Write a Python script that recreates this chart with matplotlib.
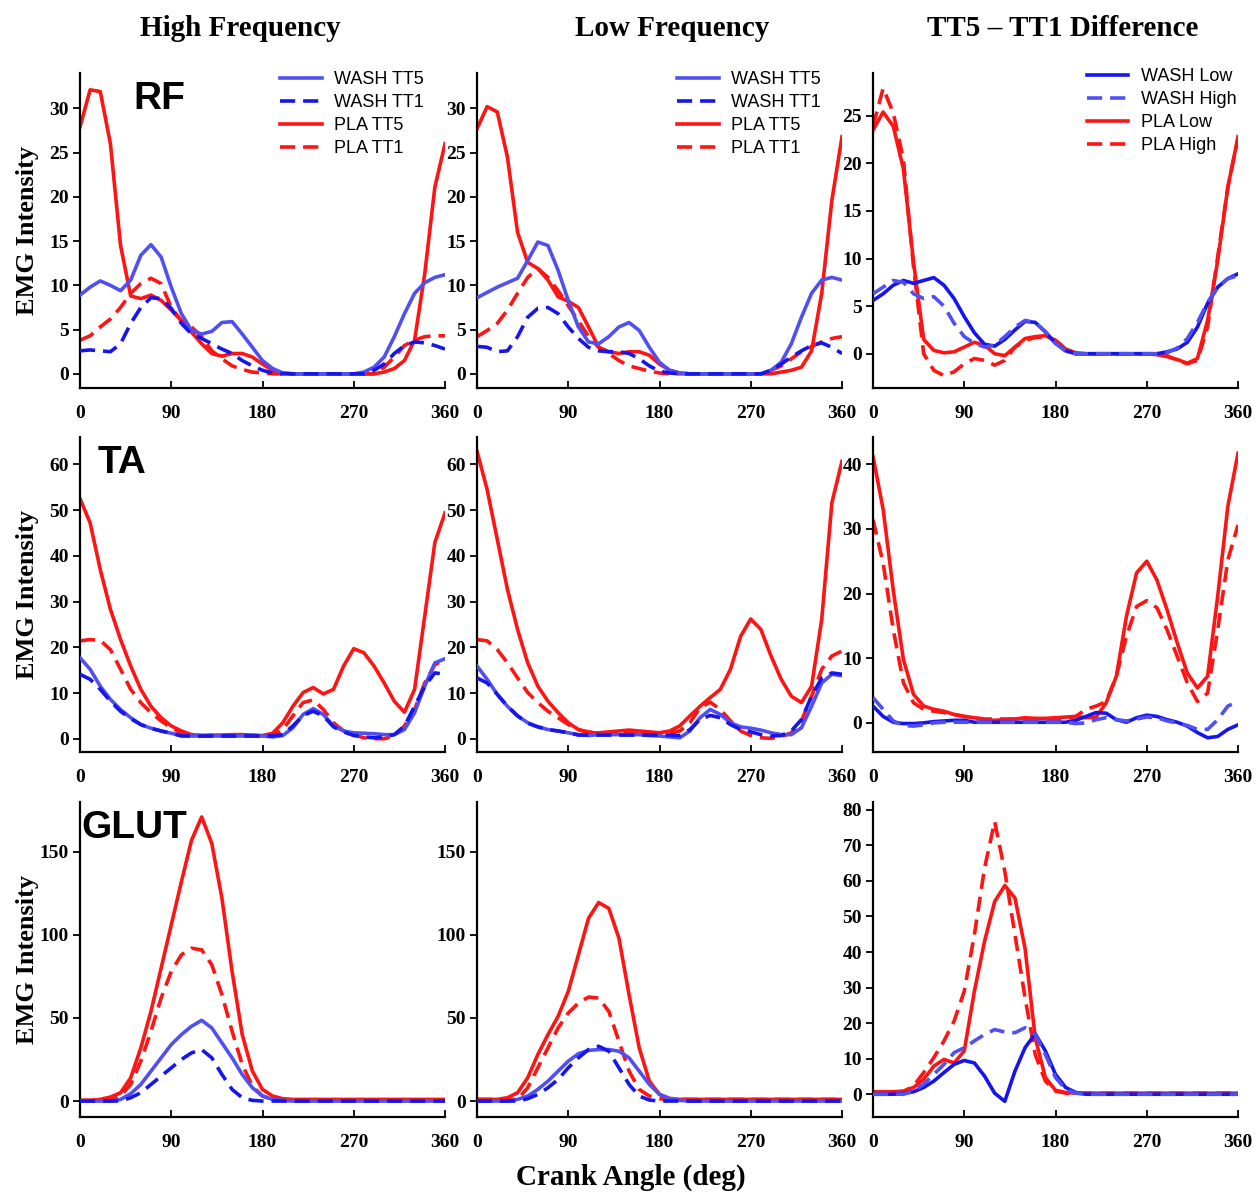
import numpy as np
import matplotlib.pyplot as plt

# crank angle samples (deg)
angle = np.arange(0, 361, 10)

# ---- RF ----
rf_high_wash_tt5 = [8.9, 9.8, 10.5, 10.0, 9.4, 10.6, 13.4, 14.6, 13.2, 9.8, 6.8, 4.9, 4.5, 4.8, 5.8, 5.9, 4.5, 3.0, 1.5, 0.6, 0.1,
                    0, 0, 0, 0, 0, 0, 0, 0.2, 0.75, 1.9, 4.2, 6.8, 9.1, 10.3, 10.9, 11.2]
rf_high_wash_tt1 = [2.6, 2.7, 2.6, 2.5, 3.4, 5.7, 7.5, 8.6, 8.5, 7.4, 5.7, 4.5, 4.0, 3.4, 2.8, 2.3, 1.5, 0.9, 0.4, 0.1, 0,
                    0, 0, 0, 0, 0, 0, 0, 0, 0.4, 1.1, 2.3, 3.2, 3.6, 3.5, 3.2, 2.8]
rf_high_pla_tt5 = [27.9, 32.1, 31.9, 26.0, 14.5, 8.8, 8.5, 8.9, 8.3, 7.2, 6.0, 4.7, 3.4, 2.3, 2.0, 2.3, 2.3, 1.9, 1.1, 0.4, 0.1,
                   0, 0, 0, 0, 0, 0, 0, 0, 0, 0.2, 0.6, 1.5, 3.8, 11.3, 21.1, 26.0]
rf_high_pla_tt1 = [3.8, 4.3, 5.3, 6.2, 7.5, 9.1, 10.2, 10.8, 10.2, 7.5, 6.0, 5.3, 4.2, 2.6, 1.7, 0.9, 0.5, 0.2, 0.1,
                   0, 0, 0, 0, 0, 0, 0, 0, 0, 0, 0, 0.75, 1.9, 3.2, 3.8, 4.2, 4.3, 4.3]

rf_low_wash_tt5 = [8.6, 9.2, 9.8, 10.3, 10.8, 12.8, 14.9, 14.5, 11.7, 8.3, 5.3, 3.6, 3.4, 4.2, 5.3, 5.8, 4.9, 3.0, 1.3, 0.4, 0.1,
                   0, 0, 0, 0, 0, 0, 0, 0, 0.4, 1.3, 3.4, 6.4, 9.1, 10.6, 10.9, 10.6]
rf_low_wash_tt1 = [3.1, 3.0, 2.5, 2.6, 4.2, 6.4, 7.4, 7.5, 6.8, 5.3, 4.0, 3.0, 2.6, 2.5, 2.5, 2.3, 1.7, 0.9, 0.3, 0.1,
                   0, 0, 0, 0, 0, 0, 0, 0, 0, 0.4, 1.1, 1.9, 2.6, 3.2, 3.5, 3.0, 2.3]
rf_low_pla_tt5 = [27.7, 30.2, 29.6, 24.5, 16.0, 12.6, 11.9, 10.6, 8.7, 8.2, 7.5, 5.3, 3.0, 2.5, 2.3, 2.5, 2.5, 2.1, 1.1, 0.4, 0.1,
                  0, 0, 0, 0, 0, 0, 0, 0, 0, 0.2, 0.4, 0.75, 2.6, 9.1, 19.6, 26.8]
rf_low_pla_tt1 = [4.2, 4.9, 5.7, 7.2, 9.1, 10.9, 11.9, 10.9, 9.4, 7.7, 6.0, 4.2, 3.0, 2.3, 1.5, 0.9, 0.6, 0.3, 0.1,
                  0, 0, 0, 0, 0, 0, 0, 0, 0, 0, 0.4, 0.9, 1.7, 2.5, 3.1, 3.6, 4.0, 4.2]

rf_diff_wash_low = [5.6, 6.3, 7.2, 7.7, 7.4, 7.7, 8.0, 7.2, 5.8, 3.9, 2.2, 1.0, 0.8, 1.5, 2.5, 3.4, 3.3, 2.3, 1.1, 0.3,
                    0, 0, 0, 0, 0, 0, 0, 0, 0, 0.2, 0.5, 1.2, 2.8, 5.3, 7.0, 7.9, 8.4]
rf_diff_wash_high = [6.3, 7.0, 7.7, 7.5, 6.3, 5.8, 6.0, 5.0, 3.2, 1.8, 1.1, 0.7, 0.9, 1.8, 2.8, 3.5, 3.3, 2.3, 1.1, 0.3,
                     0, 0, 0, 0, 0, 0, 0, 0, 0, 0.1, 0.6, 1.6, 3.3, 5.4, 7.0, 7.9, 8.2]
rf_diff_pla_low = [23.5, 25.4, 23.9, 19.4, 9.6, 1.5, 0.35, 0.1, 0.2, 0.7, 1.2, 0.9, 0.0, -0.2, 0.7, 1.6, 1.8, 1.9, 1.4, 0.5, 0.1,
                   0, 0, 0, 0, 0, 0, 0, -0.1, -0.3, -0.6, -1.0, -0.5, 3.5, 9.8, 17.5, 22.8]
rf_diff_pla_high = [23.9, 27.9, 25.3, 20.4, 9.1, 0, -1.75, -2.3, -1.9, -1.05, -0.5, -0.7, -1.2, -0.7, 0.7, 1.4, 1.7, 1.8, 1.4, 0.5,
                    0, 0, 0, 0, 0, 0, 0, 0, 0, -0.2, -0.7, -1.05, -0.7, 2.8, 10.2, 17.5, 22.6]

# ---- TA ----
ta_high_wash_tt5 = [17.7, 15.2, 11.5, 8.6, 6.4, 4.6, 3.1, 2.3, 1.7, 1.2, 0.7, 0.6, 0.6, 0.6, 0.6, 0.6, 0.6, 0.6, 0.6, 0.4,
                    0.7, 2.4, 5.3, 6.6, 5.3, 2.8, 1.7, 1.3, 1.2, 1.1, 0.9, 0.9, 2.0, 5.7, 11.5, 16.6, 17.5]
ta_high_wash_tt1 = [14.1, 13.0, 10.8, 8.2, 6.0, 4.4, 3.1, 2.3, 1.7, 1.2, 0.6, 0.6, 0.6, 0.6, 0.6, 0.6, 0.6, 0.6, 0.6, 0.6,
                    0.9, 2.8, 5.1, 6.0, 5.0, 2.6, 1.5, 0.7, 0.4, 0.2, 0.4, 0.9, 2.8, 7.1, 11.5, 14.4, 14.1]
ta_high_pla_tt5 = [52.5, 47.2, 37.0, 28.3, 21.7, 15.9, 10.8, 7.1, 4.6, 2.8, 1.7, 0.9, 0.7, 0.8, 0.8, 0.9, 0.9, 0.8, 0.7, 1.2,
                   3.5, 7.1, 10.1, 11.2, 9.8, 10.8, 15.9, 19.7, 18.8, 15.9, 12.2, 8.2, 5.8, 10.8, 26.8, 42.9, 49.4]
ta_high_pla_tt1 = [21.4, 21.7, 21.5, 19.5, 15.2, 10.8, 7.9, 5.7, 3.9, 2.4, 1.3, 0.8, 0.7, 0.7, 0.7, 0.7, 0.7, 0.7, 0.7, 0.7,
                   2.0, 5.0, 7.9, 8.5, 6.4, 3.5, 1.7, 0.9, 0.2, 0, 0, 0.6, 2.8, 6.4, 12.2, 16.2, 17.3]

ta_low_wash_tt5 = [15.9, 13.0, 9.7, 7.1, 5.0, 3.5, 2.6, 2.0, 1.7, 1.3, 0.9, 0.7, 0.9, 0.9, 0.9, 0.9, 0.9, 0.7, 0.6, 0.4,
                   0.2, 1.7, 4.6, 6.4, 5.3, 3.5, 2.6, 2.3, 1.9, 1.3, 0.9, 0.9, 2.4, 7.1, 12.2, 14.1, 13.8]
ta_low_wash_tt1 = [13.3, 12.2, 9.7, 7.1, 5.0, 3.4, 2.6, 2.0, 1.7, 1.3, 0.8, 0.8, 0.8, 0.8, 0.8, 0.8, 0.8, 0.8, 0.8, 0.8,
                   0.7, 2.0, 4.2, 5.1, 4.6, 3.1, 2.0, 1.5, 0.9, 0.6, 0.7, 1.7, 4.2, 9.3, 13.3, 14.4, 14.1]
ta_low_pla_tt5 = [62.9, 54.5, 43.6, 32.7, 23.9, 16.6, 11.5, 8.2, 5.7, 3.5, 2.0, 1.3, 1.3, 1.5, 1.7, 1.9, 1.7, 1.5, 1.3, 1.7,
                  2.8, 5.0, 7.1, 9.0, 10.8, 15.2, 22.4, 26.2, 23.9, 18.1, 13.0, 9.3, 7.9, 11.5, 26.1, 51.6, 60.7]
ta_low_pla_tt1 = [21.7, 21.4, 19.5, 16.6, 13.3, 10.1, 7.9, 6.0, 4.6, 3.1, 2.0, 1.5, 1.3, 1.2, 1.2, 1.2, 1.2, 1.2, 1.2, 1.2,
                  1.7, 3.5, 6.8, 8.0, 6.4, 3.9, 1.7, 0.7, 0.2, 0.1, 0.4, 1.3, 3.9, 9.3, 15.2, 18.1, 19.2]

ta_diff_wash_low = [2.6, 1.0, 0.1, -0.1, -0.1, 0, 0.2, 0.3, 0.4, 0.4, 0.1, 0.1, 0.1, 0.1, 0.1, 0.1, 0.1, 0.1, 0.1, 0.1,
                    0.4, 1.0, 1.6, 1.5, 0.5, 0.1, 0.8, 1.2, 1.0, 0.5, 0.1, -0.5, -1.5, -2.3, -2.1, -1.0, -0.3]
ta_diff_wash_high = [3.9, 2.1, 0.3, -0.4, -0.5, -0.3, 0, 0.1, 0.1, 0.1, 0.1, 0.1, 0.1, 0.1, 0.1, 0.1, 0.1, 0.1, 0.1, 0.1,
                     -0.1, 0, 0.5, 0.8, 0.5, 0.3, 0.6, 0.9, 0.8, 0.3, 0, -0.4, -1.0, -1.0, 0.5, 2.6, 3.3]
ta_diff_pla_low = [41.2, 33.0, 20.5, 9.8, 4.4, 2.6, 2.1, 1.8, 1.3, 1.0, 0.8, 0.5, 0.4, 0.5, 0.6, 0.8, 0.7, 0.7, 0.8, 0.9,
                   1.0, 0.8, 0.9, 3.1, 7.2, 16.5, 23.2, 25.0, 22.1, 17.5, 12.4, 7.7, 5.4, 7.2, 19.6, 33.5, 41.7]
ta_diff_pla_high = [31.4, 24.7, 14.4, 6.2, 3.1, 2.1, 1.8, 1.6, 1.3, 1.0, 0.8, 0.6, 0.6, 0.6, 0.6, 0.6, 0.6, 0.6, 0.6, 0.6,
                    1.0, 2.1, 2.6, 3.3, 7.2, 13.4, 18.0, 18.9, 17.8, 14.4, 10.3, 6.2, 3.3, 4.6, 14.4, 25.2, 30.6]

# ---- GLUT ----
glut_high_wash_tt5 = [0, 0, 0, 0, 1, 4.4, 10, 18, 26, 34, 40, 45, 48.6, 44, 35, 26, 16, 8, 3, 1, 0.4,
                      0, 0, 0, 0, 0, 0, 0, 0, 0, 0, 0, 0, 0, 0, 0, 0]
glut_high_wash_tt1 = [0, 0, 0, 0, 0, 2, 5, 10, 15, 20, 25, 29, 31, 26, 16, 7, 2, 0.4,
                      0, 0, 0, 0, 0, 0, 0, 0, 0, 0, 0, 0, 0, 0, 0, 0, 0, 0, 0]
glut_high_pla_tt5 = [0.4, 0.4, 1, 2.4, 5, 14, 32, 54, 80, 106, 132, 157, 171, 155, 122, 78, 40, 18, 7, 3, 1.4,
                     1, 1, 1, 1, 1, 1, 1, 1, 1, 1, 1, 1, 1, 1, 1, 1]
glut_high_pla_tt1 = [0.4, 0.4, 0.4, 0.4, 3, 10, 24, 42, 62, 78, 88, 92, 91, 82, 64, 42, 22, 9, 3, 1,
                     0.4, 0.4, 0.4, 0.4, 0.4, 0.4, 0.4, 0.4, 0.4, 0.4, 0.4, 0.4, 0.4, 0.4, 0.4, 0.4, 0.4]

glut_low_wash_tt5 = [0, 0, 0, 0, 1, 3, 7, 12, 18, 24, 28.5, 30.5, 31, 31, 30, 26, 18, 10, 4, 1.4, 0.4,
                     0, 0, 0, 0, 0, 0, 0, 0, 0, 0, 0, 0, 0, 0, 0, 0]
glut_low_wash_tt1 = [0, 0, 0, 0, 0, 1.4, 4, 8, 13, 20, 26, 31, 33, 30, 20, 10, 3, 0.6,
                     0, 0, 0, 0, 0, 0, 0, 0, 0, 0, 0, 0, 0, 0, 0, 0, 0, 0, 0]
glut_low_pla_tt5 = [1, 1, 1, 2, 5, 14, 28, 40, 51, 66, 88, 110, 119.5, 116, 98, 64, 32, 12, 4, 1.6,
                    1, 1, 1, 1, 1, 1, 1, 1, 1, 1, 1, 1, 1, 1, 1, 1, 1]
glut_low_pla_tt1 = [1, 1, 1, 1, 1, 8, 20, 32, 44, 53, 59, 62.6, 62, 54, 36, 18, 7, 3, 1.4,
                    1, 1, 1, 1, 1, 1, 1, 1, 1, 1, 1, 1, 1, 1, 1, 1, 1, 1]

glut_diff_wash_low = [0, 0, 0, 0.2, 0.7, 1.9, 3.7, 6.1, 8.4, 9.5, 8.8, 5.1, 0.3, -2.0, 6.5, 13.1, 17, 12.2, 5.6, 1.9, 0.5,
                      0, 0, 0, 0, 0, 0, 0, 0, 0, 0, 0, 0, 0, 0, 0, 0]
glut_diff_wash_high = [0, 0, 0, 0, 0.9, 2.8, 5.6, 8.4, 11.7, 13.1, 15, 16.8, 18.2, 17.5, 17.3, 18.7, 16.8, 11.2, 4.7, 1.4, 0.3,
                       0, 0, 0, 0, 0, 0, 0, 0, 0, 0, 0, 0, 0, 0, 0, 0]
glut_diff_pla_low = [0.7, 0.7, 0.7, 0.9, 1.9, 4.2, 7.9, 9.8, 8.8, 12.2, 29, 43, 54.2, 58.7, 55.2, 41, 15.9, 4.7, 1.1, 0.5,
                     0.3, 0.3, 0.3, 0.3, 0.3, 0.3, 0.3, 0.3, 0.3, 0.3, 0.3, 0.3, 0.3, 0.3, 0.3, 0.3, 0.3]
glut_diff_pla_high = [0.3, 0.3, 0.3, 0.7, 2.3, 6.1, 10.3, 15, 20.6, 29, 44.9, 63.6, 76.7, 62.7, 44.9, 27.1, 11.2, 3.7, 0.9,
                      0.3, 0.3, 0.3, 0.3, 0.3, 0.3, 0.3, 0.3, 0.3, 0.3, 0.3, 0.3, 0.3, 0.3, 0.3, 0.3, 0.3, 0.3]

col_titles = ["High Frequency", "Low Frequency", "TT5 \u2013 TT1 Difference"]
row_names = ["RF", "TA", "GLUT"]
labels_tt = ["WASH TT5", "WASH TT1", "PLA TT5", "PLA TT1"]
labels_diff = ["WASH Low", "WASH High", "PLA Low", "PLA High"]

panels = [
    [(rf_high_wash_tt5, rf_high_wash_tt1, rf_high_pla_tt5, rf_high_pla_tt1),
     (rf_low_wash_tt5, rf_low_wash_tt1, rf_low_pla_tt5, rf_low_pla_tt1),
     (rf_diff_wash_low, rf_diff_wash_high, rf_diff_pla_low, rf_diff_pla_high)],
    [(ta_high_wash_tt5, ta_high_wash_tt1, ta_high_pla_tt5, ta_high_pla_tt1),
     (ta_low_wash_tt5, ta_low_wash_tt1, ta_low_pla_tt5, ta_low_pla_tt1),
     (ta_diff_wash_low, ta_diff_wash_high, ta_diff_pla_low, ta_diff_pla_high)],
    [(glut_high_wash_tt5, glut_high_wash_tt1, glut_high_pla_tt5, glut_high_pla_tt1),
     (glut_low_wash_tt5, glut_low_wash_tt1, glut_low_pla_tt5, glut_low_pla_tt1),
     (glut_diff_wash_low, glut_diff_wash_high, glut_diff_pla_low, glut_diff_pla_high)],
]

# axis limits / ticks per row: (first two columns, difference column)
ylims = [((-1.6, 34), (-3.6, 29.5)), ((-2.9, 66), (-4.5, 44.2)), ((-9.6, 180), (-6.4, 82.2))]
yticks = [(np.arange(0, 31, 5), np.arange(0, 26, 5)),
          (np.arange(0, 61, 10), np.arange(0, 41, 10)),
          (np.arange(0, 151, 50), np.arange(0, 81, 10))]

BLUE_L = '#5050f2'
BLUE_D = '#1616ec'
RED = '#ff1414'
DASH = (4.2, 2.2)

plt.rcParams['font.family'] = 'Liberation Serif'
plt.rcParams['font.weight'] = 'bold'

FW, FH = 1258, 1192
fig = plt.figure(figsize=(FW / 100, FH / 100), dpi=100)

col_left = [80, 477, 873]
row_top = [73, 437, 802]
AW, AH = 365, 315

for r in range(3):
    for c in range(3):
        ax = fig.add_axes([col_left[c] / FW, 1 - (row_top[r] + AH) / FH, AW / FW, AH / FH])
        s_wash_a, s_wash_b, s_pla_a, s_pla_b = panels[r][c]
        labs = labels_diff if c == 2 else labels_tt
        # solid WASH is lighter in the TT panels, darker in the difference panels
        col_a, col_b = (BLUE_D, BLUE_L) if c == 2 else (BLUE_L, BLUE_D)
        kw = dict(lw=2.6, solid_joinstyle='round', dash_joinstyle='round')
        ax.plot(angle, s_pla_a, color=RED, label=labs[2], zorder=2, **kw)
        ax.plot(angle, s_pla_b, color=RED, dashes=DASH, label=labs[3], zorder=2, **kw)
        ax.plot(angle, s_wash_a, color=col_a, label=labs[0], zorder=3, **kw)
        ax.plot(angle, s_wash_b, color=col_b, dashes=DASH, label=labs[1], zorder=3, **kw)

        ax.set_xlim(0, 360)
        ax.set_xticks([0, 90, 180, 270, 360])
        k = 1 if c == 2 else 0
        ax.set_ylim(*ylims[r][k])
        ax.set_yticks(yticks[r][k])

        for side in ['top', 'right']:
            ax.spines[side].set_visible(False)
        for side in ['left', 'bottom']:
            ax.spines[side].set_linewidth(1.6)
        ax.tick_params(axis='x', direction='in', length=5, width=1.3, pad=12, labelsize=14)
        ax.tick_params(axis='y', direction='out', length=5, width=1.3, pad=3, labelsize=14)

        if r == 0:
            handles, lbls = ax.get_legend_handles_labels()
            order = [2, 3, 0, 1]
            h = [handles[i] for i in order]
            l = [lbls[i] for i in order]
            bx = 0.586 if c == 2 else 0.548
            by = 1.015 if c == 2 else 1.005
            ax.legend(h, l, loc='upper left', bbox_to_anchor=(bx, by), frameon=False,
                      prop=dict(family='Liberation Sans', weight='normal', size=13),
                      handlelength=2.3, handletextpad=0.7, labelspacing=0.33,
                      borderpad=0, borderaxespad=0)

        if c == 0:
            ax.set_ylabel("EMG Intensity", fontsize=19, fontweight='bold')
            ax.yaxis.set_label_coords(-0.112, 0.5)
            lx = [0.145, 0.047, 0.004][r]
            ax.text(lx, 0.975, row_names[r], transform=ax.transAxes, ha='left', va='top',
                    family='Liberation Sans', fontweight='bold', fontsize=28, zorder=5)

title_x = [240, 672, 1063]
for c in range(3):
    fig.text(title_x[c] / FW, 1 - 28 / FH, col_titles[c], ha='center', va='center',
             fontsize=21, fontweight='bold')

fig.text(631 / FW, 1 - 1177 / FH, "Crank Angle (deg)", ha='center', va='center',
         fontsize=21, fontweight='bold')

fig.savefig("out.png", dpi=100)
